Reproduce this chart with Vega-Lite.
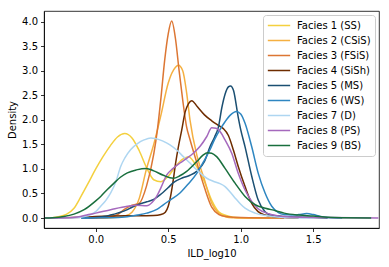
{
  "$schema": "https://vega.github.io/schema/vega-lite/v6.json",
  "width": 335,
  "height": 217,
  "autosize": {"type": "none"},
  "padding": {"left": 44, "top": 11, "right": 10, "bottom": 39},
  "config": {
    "view": {"stroke": "black", "strokeWidth": 0.8},
    "font": "DejaVu Sans",
    "axis": {"domainColor": "black", "domainWidth": 0.8, "tickColor": "black", "tickSize": 3.5, "tickWidth": 0.8, "labelFont": "DejaVu Sans", "labelFontSize": 10, "labelColor": "black", "titleFont": "DejaVu Sans", "titleFontSize": 10, "titleFontWeight": "normal", "titleColor": "black", "grid": false, "labelPadding": 3}
  },
  "data": {"values": [
    {"f":"Facies 1 (SS)","x":-0.35,"d":0},{"f":"Facies 1 (SS)","x":-0.3,"d":0.005},{"f":"Facies 1 (SS)","x":-0.25,"d":0.03},{"f":"Facies 1 (SS)","x":-0.2,"d":0.08},{"f":"Facies 1 (SS)","x":-0.15,"d":0.2},{"f":"Facies 1 (SS)","x":-0.1,"d":0.45},{"f":"Facies 1 (SS)","x":-0.05,"d":0.72},{"f":"Facies 1 (SS)","x":0.0,"d":1.0},{"f":"Facies 1 (SS)","x":0.05,"d":1.25},{"f":"Facies 1 (SS)","x":0.1,"d":1.47},{"f":"Facies 1 (SS)","x":0.15,"d":1.65},{"f":"Facies 1 (SS)","x":0.2,"d":1.72},{"f":"Facies 1 (SS)","x":0.25,"d":1.63},{"f":"Facies 1 (SS)","x":0.3,"d":1.37},{"f":"Facies 1 (SS)","x":0.35,"d":1.03},{"f":"Facies 1 (SS)","x":0.4,"d":0.78},{"f":"Facies 1 (SS)","x":0.45,"d":0.74},{"f":"Facies 1 (SS)","x":0.5,"d":0.85},{"f":"Facies 1 (SS)","x":0.55,"d":1.05},{"f":"Facies 1 (SS)","x":0.6,"d":1.2},{"f":"Facies 1 (SS)","x":0.64,"d":1.25},{"f":"Facies 1 (SS)","x":0.7,"d":1.03},{"f":"Facies 1 (SS)","x":0.75,"d":0.74},{"f":"Facies 1 (SS)","x":0.8,"d":0.36},{"f":"Facies 1 (SS)","x":0.85,"d":0.12},{"f":"Facies 1 (SS)","x":0.9,"d":0.05},{"f":"Facies 1 (SS)","x":0.95,"d":0.015},{"f":"Facies 1 (SS)","x":1.0,"d":0.005},{"f":"Facies 1 (SS)","x":1.1,"d":0},{"f":"Facies 1 (SS)","x":1.3,"d":0},
    {"f":"Facies 2 (CSiS)","x":0.0,"d":0},{"f":"Facies 2 (CSiS)","x":0.1,"d":0.005},{"f":"Facies 2 (CSiS)","x":0.15,"d":0.015},{"f":"Facies 2 (CSiS)","x":0.2,"d":0.04},{"f":"Facies 2 (CSiS)","x":0.25,"d":0.12},{"f":"Facies 2 (CSiS)","x":0.3,"d":0.4},{"f":"Facies 2 (CSiS)","x":0.35,"d":1.0},{"f":"Facies 2 (CSiS)","x":0.38,"d":1.3},{"f":"Facies 2 (CSiS)","x":0.4,"d":1.5},{"f":"Facies 2 (CSiS)","x":0.45,"d":2.1},{"f":"Facies 2 (CSiS)","x":0.5,"d":2.75},{"f":"Facies 2 (CSiS)","x":0.55,"d":3.07},{"f":"Facies 2 (CSiS)","x":0.57,"d":3.11},{"f":"Facies 2 (CSiS)","x":0.6,"d":3.0},{"f":"Facies 2 (CSiS)","x":0.627,"d":2.55},{"f":"Facies 2 (CSiS)","x":0.65,"d":2.0},{"f":"Facies 2 (CSiS)","x":0.7,"d":1.25},{"f":"Facies 2 (CSiS)","x":0.75,"d":0.78},{"f":"Facies 2 (CSiS)","x":0.8,"d":0.3},{"f":"Facies 2 (CSiS)","x":0.85,"d":0.09},{"f":"Facies 2 (CSiS)","x":0.9,"d":0.02},{"f":"Facies 2 (CSiS)","x":0.95,"d":0.005},{"f":"Facies 2 (CSiS)","x":1.0,"d":0},{"f":"Facies 2 (CSiS)","x":1.2,"d":0},
    {"f":"Facies 3 (FSiS)","x":-0.05,"d":0},{"f":"Facies 3 (FSiS)","x":0.05,"d":0.005},{"f":"Facies 3 (FSiS)","x":0.1,"d":0.02},{"f":"Facies 3 (FSiS)","x":0.15,"d":0.07},{"f":"Facies 3 (FSiS)","x":0.2,"d":0.18},{"f":"Facies 3 (FSiS)","x":0.25,"d":0.26},{"f":"Facies 3 (FSiS)","x":0.3,"d":0.3},{"f":"Facies 3 (FSiS)","x":0.35,"d":0.65},{"f":"Facies 3 (FSiS)","x":0.4,"d":1.3},{"f":"Facies 3 (FSiS)","x":0.425,"d":1.79},{"f":"Facies 3 (FSiS)","x":0.45,"d":2.45},{"f":"Facies 3 (FSiS)","x":0.475,"d":3.2},{"f":"Facies 3 (FSiS)","x":0.5,"d":3.75},{"f":"Facies 3 (FSiS)","x":0.524,"d":4.01},{"f":"Facies 3 (FSiS)","x":0.55,"d":3.65},{"f":"Facies 3 (FSiS)","x":0.575,"d":3.0},{"f":"Facies 3 (FSiS)","x":0.6,"d":2.4},{"f":"Facies 3 (FSiS)","x":0.627,"d":1.85},{"f":"Facies 3 (FSiS)","x":0.65,"d":1.6},{"f":"Facies 3 (FSiS)","x":0.7,"d":1.1},{"f":"Facies 3 (FSiS)","x":0.75,"d":0.62},{"f":"Facies 3 (FSiS)","x":0.8,"d":0.22},{"f":"Facies 3 (FSiS)","x":0.85,"d":0.07},{"f":"Facies 3 (FSiS)","x":0.9,"d":0.03},{"f":"Facies 3 (FSiS)","x":1.0,"d":0.01},{"f":"Facies 3 (FSiS)","x":1.3,"d":0},
    {"f":"Facies 4 (SiSh)","x":-0.35,"d":0},{"f":"Facies 4 (SiSh)","x":-0.2,"d":0.005},{"f":"Facies 4 (SiSh)","x":-0.1,"d":0.015},{"f":"Facies 4 (SiSh)","x":0.0,"d":0.03},{"f":"Facies 4 (SiSh)","x":0.1,"d":0.04},{"f":"Facies 4 (SiSh)","x":0.2,"d":0.045},{"f":"Facies 4 (SiSh)","x":0.3,"d":0.045},{"f":"Facies 4 (SiSh)","x":0.4,"d":0.05},{"f":"Facies 4 (SiSh)","x":0.45,"d":0.07},{"f":"Facies 4 (SiSh)","x":0.48,"d":0.12},{"f":"Facies 4 (SiSh)","x":0.5,"d":0.24},{"f":"Facies 4 (SiSh)","x":0.52,"d":0.5},{"f":"Facies 4 (SiSh)","x":0.535,"d":0.78},{"f":"Facies 4 (SiSh)","x":0.55,"d":1.1},{"f":"Facies 4 (SiSh)","x":0.57,"d":1.45},{"f":"Facies 4 (SiSh)","x":0.593,"d":1.79},{"f":"Facies 4 (SiSh)","x":0.616,"d":2.15},{"f":"Facies 4 (SiSh)","x":0.64,"d":2.33},{"f":"Facies 4 (SiSh)","x":0.662,"d":2.39},{"f":"Facies 4 (SiSh)","x":0.7,"d":2.27},{"f":"Facies 4 (SiSh)","x":0.75,"d":2.1},{"f":"Facies 4 (SiSh)","x":0.8,"d":1.98},{"f":"Facies 4 (SiSh)","x":0.85,"d":1.88},{"f":"Facies 4 (SiSh)","x":0.88,"d":1.82},{"f":"Facies 4 (SiSh)","x":0.915,"d":1.68},{"f":"Facies 4 (SiSh)","x":0.95,"d":1.38},{"f":"Facies 4 (SiSh)","x":0.983,"d":1.05},{"f":"Facies 4 (SiSh)","x":1.03,"d":0.64},{"f":"Facies 4 (SiSh)","x":1.076,"d":0.3},{"f":"Facies 4 (SiSh)","x":1.12,"d":0.13},{"f":"Facies 4 (SiSh)","x":1.17,"d":0.06},{"f":"Facies 4 (SiSh)","x":1.22,"d":0.03},{"f":"Facies 4 (SiSh)","x":1.3,"d":0.01},{"f":"Facies 4 (SiSh)","x":1.4,"d":0},
    {"f":"Facies 5 (MS)","x":-0.1,"d":0},{"f":"Facies 5 (MS)","x":0.0,"d":0.01},{"f":"Facies 5 (MS)","x":0.057,"d":0.03},{"f":"Facies 5 (MS)","x":0.1,"d":0.06},{"f":"Facies 5 (MS)","x":0.15,"d":0.1},{"f":"Facies 5 (MS)","x":0.218,"d":0.17},{"f":"Facies 5 (MS)","x":0.25,"d":0.22},{"f":"Facies 5 (MS)","x":0.3,"d":0.28},{"f":"Facies 5 (MS)","x":0.352,"d":0.33},{"f":"Facies 5 (MS)","x":0.4,"d":0.38},{"f":"Facies 5 (MS)","x":0.443,"d":0.47},{"f":"Facies 5 (MS)","x":0.5,"d":0.62},{"f":"Facies 5 (MS)","x":0.535,"d":0.72},{"f":"Facies 5 (MS)","x":0.6,"d":0.82},{"f":"Facies 5 (MS)","x":0.65,"d":0.87},{"f":"Facies 5 (MS)","x":0.7,"d":0.96},{"f":"Facies 5 (MS)","x":0.75,"d":1.15},{"f":"Facies 5 (MS)","x":0.788,"d":1.45},{"f":"Facies 5 (MS)","x":0.82,"d":1.65},{"f":"Facies 5 (MS)","x":0.846,"d":1.85},{"f":"Facies 5 (MS)","x":0.87,"d":2.25},{"f":"Facies 5 (MS)","x":0.892,"d":2.52},{"f":"Facies 5 (MS)","x":0.915,"d":2.67},{"f":"Facies 5 (MS)","x":0.93,"d":2.69},{"f":"Facies 5 (MS)","x":0.95,"d":2.6},{"f":"Facies 5 (MS)","x":0.983,"d":2.05},{"f":"Facies 5 (MS)","x":1.0,"d":1.8},{"f":"Facies 5 (MS)","x":1.03,"d":1.45},{"f":"Facies 5 (MS)","x":1.076,"d":0.85},{"f":"Facies 5 (MS)","x":1.12,"d":0.37},{"f":"Facies 5 (MS)","x":1.168,"d":0.13},{"f":"Facies 5 (MS)","x":1.21,"d":0.06},{"f":"Facies 5 (MS)","x":1.3,"d":0.03},{"f":"Facies 5 (MS)","x":1.4,"d":0.02},{"f":"Facies 5 (MS)","x":1.5,"d":0.01},{"f":"Facies 5 (MS)","x":1.6,"d":0},
    {"f":"Facies 6 (WS)","x":-0.1,"d":0},{"f":"Facies 6 (WS)","x":0.1,"d":0.005},{"f":"Facies 6 (WS)","x":0.2,"d":0.02},{"f":"Facies 6 (WS)","x":0.287,"d":0.06},{"f":"Facies 6 (WS)","x":0.352,"d":0.1},{"f":"Facies 6 (WS)","x":0.425,"d":0.18},{"f":"Facies 6 (WS)","x":0.466,"d":0.27},{"f":"Facies 6 (WS)","x":0.52,"d":0.38},{"f":"Facies 6 (WS)","x":0.581,"d":0.51},{"f":"Facies 6 (WS)","x":0.64,"d":0.7},{"f":"Facies 6 (WS)","x":0.697,"d":0.91},{"f":"Facies 6 (WS)","x":0.75,"d":1.18},{"f":"Facies 6 (WS)","x":0.788,"d":1.39},{"f":"Facies 6 (WS)","x":0.82,"d":1.6},{"f":"Facies 6 (WS)","x":0.857,"d":1.8},{"f":"Facies 6 (WS)","x":0.892,"d":1.96},{"f":"Facies 6 (WS)","x":0.93,"d":2.1},{"f":"Facies 6 (WS)","x":0.97,"d":2.17},{"f":"Facies 6 (WS)","x":1.0,"d":2.12},{"f":"Facies 6 (WS)","x":1.03,"d":1.93},{"f":"Facies 6 (WS)","x":1.076,"d":1.45},{"f":"Facies 6 (WS)","x":1.121,"d":0.91},{"f":"Facies 6 (WS)","x":1.168,"d":0.51},{"f":"Facies 6 (WS)","x":1.214,"d":0.24},{"f":"Facies 6 (WS)","x":1.26,"d":0.11},{"f":"Facies 6 (WS)","x":1.3,"d":0.07},{"f":"Facies 6 (WS)","x":1.35,"d":0.06},{"f":"Facies 6 (WS)","x":1.4,"d":0.07},{"f":"Facies 6 (WS)","x":1.455,"d":0.09},{"f":"Facies 6 (WS)","x":1.5,"d":0.07},{"f":"Facies 6 (WS)","x":1.55,"d":0.03},{"f":"Facies 6 (WS)","x":1.6,"d":0.01},{"f":"Facies 6 (WS)","x":1.7,"d":0},
    {"f":"Facies 7 (D)","x":-0.35,"d":0},{"f":"Facies 7 (D)","x":-0.15,"d":0.005},{"f":"Facies 7 (D)","x":-0.08,"d":0.03},{"f":"Facies 7 (D)","x":0.0,"d":0.13},{"f":"Facies 7 (D)","x":0.034,"d":0.24},{"f":"Facies 7 (D)","x":0.07,"d":0.36},{"f":"Facies 7 (D)","x":0.103,"d":0.51},{"f":"Facies 7 (D)","x":0.14,"d":0.75},{"f":"Facies 7 (D)","x":0.172,"d":1.05},{"f":"Facies 7 (D)","x":0.2,"d":1.22},{"f":"Facies 7 (D)","x":0.24,"d":1.39},{"f":"Facies 7 (D)","x":0.29,"d":1.52},{"f":"Facies 7 (D)","x":0.333,"d":1.59},{"f":"Facies 7 (D)","x":0.38,"d":1.63},{"f":"Facies 7 (D)","x":0.41,"d":1.62},{"f":"Facies 7 (D)","x":0.46,"d":1.57},{"f":"Facies 7 (D)","x":0.512,"d":1.49},{"f":"Facies 7 (D)","x":0.56,"d":1.38},{"f":"Facies 7 (D)","x":0.604,"d":1.25},{"f":"Facies 7 (D)","x":0.65,"d":1.12},{"f":"Facies 7 (D)","x":0.697,"d":0.98},{"f":"Facies 7 (D)","x":0.766,"d":0.81},{"f":"Facies 7 (D)","x":0.81,"d":0.75},{"f":"Facies 7 (D)","x":0.857,"d":0.7},{"f":"Facies 7 (D)","x":0.892,"d":0.64},{"f":"Facies 7 (D)","x":0.93,"d":0.52},{"f":"Facies 7 (D)","x":0.961,"d":0.41},{"f":"Facies 7 (D)","x":1.0,"d":0.28},{"f":"Facies 7 (D)","x":1.03,"d":0.2},{"f":"Facies 7 (D)","x":1.1,"d":0.1},{"f":"Facies 7 (D)","x":1.17,"d":0.05},{"f":"Facies 7 (D)","x":1.25,"d":0.02},{"f":"Facies 7 (D)","x":1.35,"d":0.005},{"f":"Facies 7 (D)","x":1.5,"d":0},
    {"f":"Facies 8 (PS)","x":-0.35,"d":0},{"f":"Facies 8 (PS)","x":-0.2,"d":0.005},{"f":"Facies 8 (PS)","x":-0.127,"d":0.02},{"f":"Facies 8 (PS)","x":-0.05,"d":0.07},{"f":"Facies 8 (PS)","x":0.0,"d":0.1},{"f":"Facies 8 (PS)","x":0.103,"d":0.17},{"f":"Facies 8 (PS)","x":0.218,"d":0.24},{"f":"Facies 8 (PS)","x":0.28,"d":0.26},{"f":"Facies 8 (PS)","x":0.352,"d":0.25},{"f":"Facies 8 (PS)","x":0.39,"d":0.32},{"f":"Facies 8 (PS)","x":0.42,"d":0.44},{"f":"Facies 8 (PS)","x":0.45,"d":0.62},{"f":"Facies 8 (PS)","x":0.49,"d":0.88},{"f":"Facies 8 (PS)","x":0.53,"d":1.0},{"f":"Facies 8 (PS)","x":0.581,"d":1.12},{"f":"Facies 8 (PS)","x":0.63,"d":1.22},{"f":"Facies 8 (PS)","x":0.673,"d":1.32},{"f":"Facies 8 (PS)","x":0.72,"d":1.46},{"f":"Facies 8 (PS)","x":0.766,"d":1.66},{"f":"Facies 8 (PS)","x":0.8,"d":1.84},{"f":"Facies 8 (PS)","x":0.83,"d":1.83},{"f":"Facies 8 (PS)","x":0.86,"d":1.75},{"f":"Facies 8 (PS)","x":0.892,"d":1.59},{"f":"Facies 8 (PS)","x":0.938,"d":1.32},{"f":"Facies 8 (PS)","x":0.983,"d":0.91},{"f":"Facies 8 (PS)","x":1.03,"d":0.57},{"f":"Facies 8 (PS)","x":1.076,"d":0.34},{"f":"Facies 8 (PS)","x":1.12,"d":0.19},{"f":"Facies 8 (PS)","x":1.19,"d":0.09},{"f":"Facies 8 (PS)","x":1.3,"d":0.03},{"f":"Facies 8 (PS)","x":1.4,"d":0.015},{"f":"Facies 8 (PS)","x":1.6,"d":0.01},{"f":"Facies 8 (PS)","x":1.95,"d":0.003},
    {"f":"Facies 9 (BS)","x":-0.35,"d":0},{"f":"Facies 9 (BS)","x":-0.3,"d":0.005},{"f":"Facies 9 (BS)","x":-0.22,"d":0.03},{"f":"Facies 9 (BS)","x":-0.15,"d":0.08},{"f":"Facies 9 (BS)","x":-0.08,"d":0.17},{"f":"Facies 9 (BS)","x":0.0,"d":0.35},{"f":"Facies 9 (BS)","x":0.034,"d":0.44},{"f":"Facies 9 (BS)","x":0.08,"d":0.58},{"f":"Facies 9 (BS)","x":0.126,"d":0.71},{"f":"Facies 9 (BS)","x":0.17,"d":0.83},{"f":"Facies 9 (BS)","x":0.218,"d":0.92},{"f":"Facies 9 (BS)","x":0.28,"d":0.98},{"f":"Facies 9 (BS)","x":0.35,"d":1.01},{"f":"Facies 9 (BS)","x":0.4,"d":0.96},{"f":"Facies 9 (BS)","x":0.466,"d":0.87},{"f":"Facies 9 (BS)","x":0.535,"d":0.81},{"f":"Facies 9 (BS)","x":0.58,"d":0.86},{"f":"Facies 9 (BS)","x":0.627,"d":0.95},{"f":"Facies 9 (BS)","x":0.697,"d":1.15},{"f":"Facies 9 (BS)","x":0.74,"d":1.28},{"f":"Facies 9 (BS)","x":0.77,"d":1.33},{"f":"Facies 9 (BS)","x":0.8,"d":1.32},{"f":"Facies 9 (BS)","x":0.834,"d":1.25},{"f":"Facies 9 (BS)","x":0.892,"d":1.01},{"f":"Facies 9 (BS)","x":0.961,"d":0.71},{"f":"Facies 9 (BS)","x":1.03,"d":0.44},{"f":"Facies 9 (BS)","x":1.1,"d":0.27},{"f":"Facies 9 (BS)","x":1.17,"d":0.2},{"f":"Facies 9 (BS)","x":1.24,"d":0.15},{"f":"Facies 9 (BS)","x":1.3,"d":0.1},{"f":"Facies 9 (BS)","x":1.4,"d":0.06},{"f":"Facies 9 (BS)","x":1.5,"d":0.04},{"f":"Facies 9 (BS)","x":1.6,"d":0.015},{"f":"Facies 9 (BS)","x":1.7,"d":0.005},{"f":"Facies 9 (BS)","x":1.9,"d":0}
  ]},
  "mark": {"type": "line", "strokeWidth": 1.5, "interpolate": "monotone", "clip": true},
  "encoding": {
    "x": {"field": "x", "type": "quantitative", "scale": {"domain": [-0.357, 1.954], "nice": false, "zero": false}, "axis": {"values": [0, 0.5, 1, 1.5], "format": ".1f", "title": "ILD_log10", "titlePadding": 4}},
    "y": {"field": "d", "type": "quantitative", "scale": {"domain": [-0.203, 4.215], "nice": false, "zero": false}, "axis": {"values": [0, 0.5, 1, 1.5, 2, 2.5, 3, 3.5, 4], "format": ".1f", "title": "Density", "titlePadding": 4}},
    "color": {"field": "f", "type": "nominal", "sort": null,
      "scale": {"domain": ["Facies 1 (SS)", "Facies 2 (CSiS)", "Facies 3 (FSiS)", "Facies 4 (SiSh)", "Facies 5 (MS)", "Facies 6 (WS)", "Facies 7 (D)", "Facies 8 (PS)", "Facies 9 (BS)"],
        "range": ["#F4D03F", "#F5B041", "#DC7633", "#6E2C00", "#1B4F72", "#2E86C1", "#AED6F1", "#A569BD", "#196F3D"]},
      "legend": {"title": null, "orient": "top-right", "offset": 4, "padding": 4, "strokeColor": "#cccccc", "fillColor": "white", "cornerRadius": 3, "symbolType": "stroke", "symbolStrokeWidth": 1.5, "symbolSize": 500, "labelFontSize": 10, "labelFont": "DejaVu Sans", "labelColor": "black", "labelOffset": 6, "rowPadding": 2, "clipHeight": 13}
    }
  }
}
